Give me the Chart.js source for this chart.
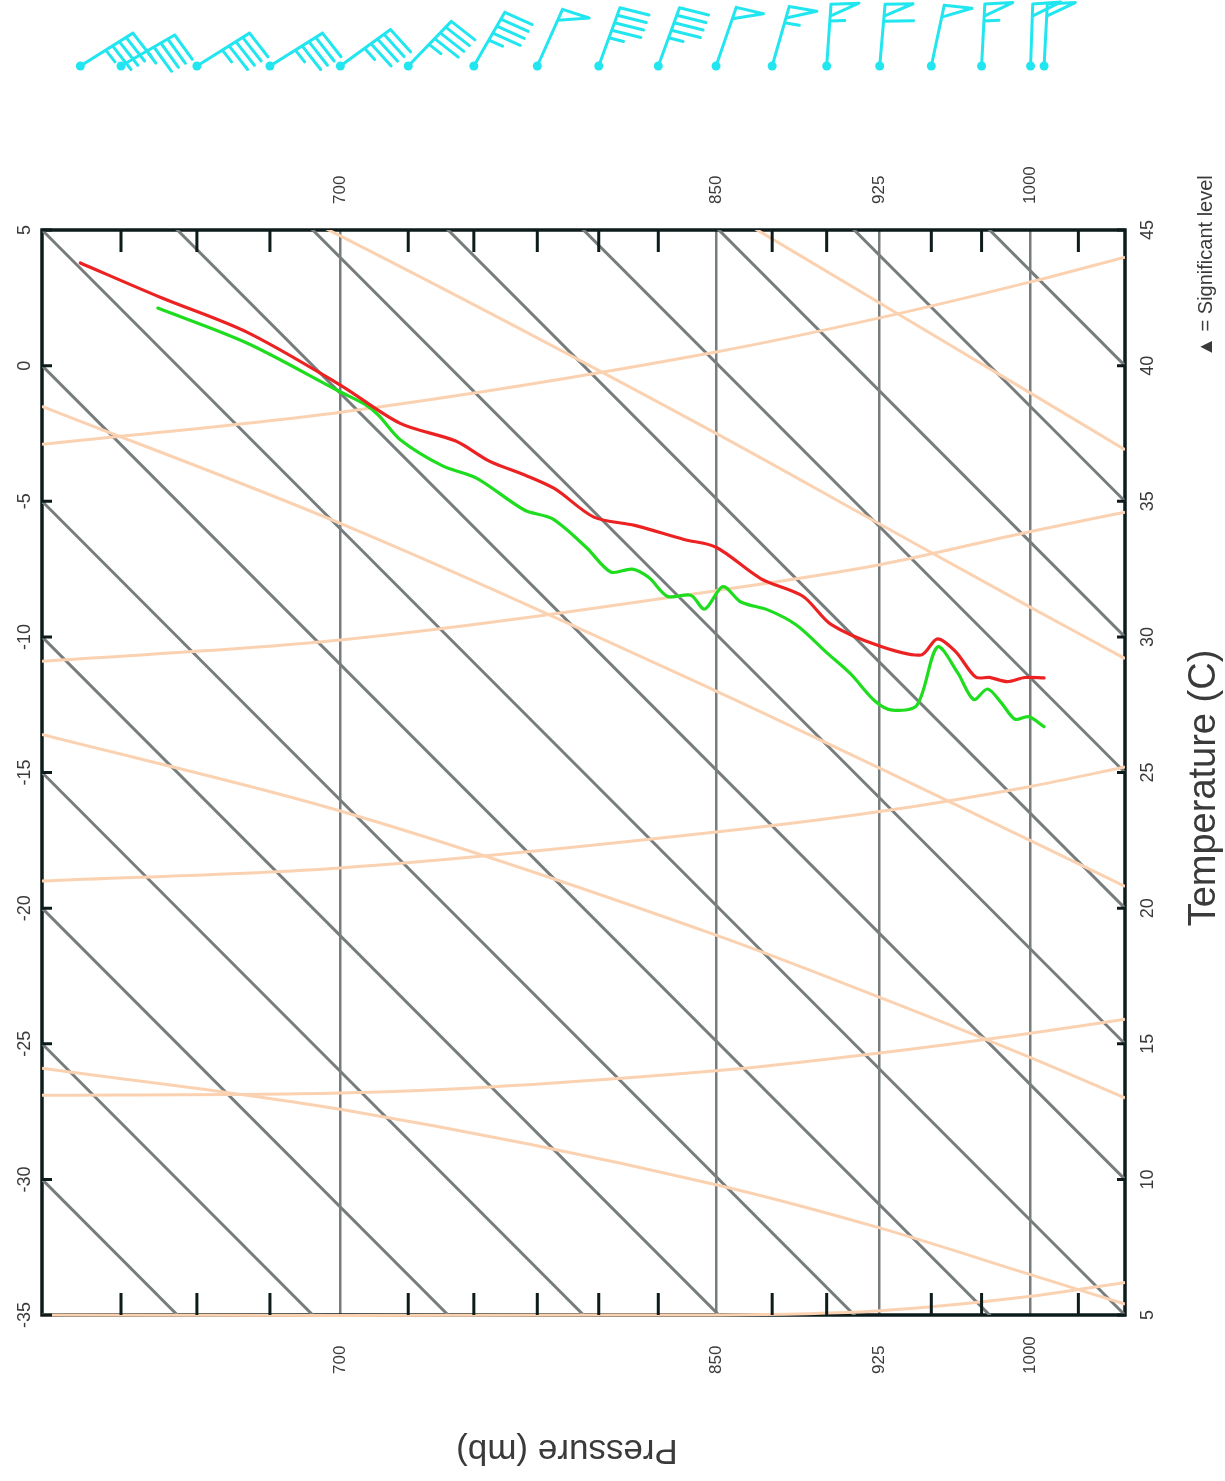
<!DOCTYPE html>
<html lang="en">
<head>
<meta charset="UTF-8">
<title>Sounding</title>
<script src="https://cdn.jsdelivr.net/npm/chart.js"></script>
<style>
  html, body { margin: 0; padding: 0; background: #fff; }
  canvas { display: block; }
</style>
</head>
<body>
<canvas id="skewt" width="1225" height="1481"></canvas>
<script>
  // sounding: pressure (mb) and temperature (C)
  const tempPressure = [612, 638, 667, 700, 722, 743, 756, 770, 782, 798, 815, 836, 850, 870, 889, 902, 925, 945, 953, 962, 972, 979, 988, 997, 1007];
  const tempC = [5.2, 6.9, 8.8, 10.3, 11.1, 12.5, 13.0, 13.8, 14.4, 14.8, 16.0, 17.3, 18.2, 18.7, 19.6, 19.6, 20.6, 21.8, 23.0, 23.2, 23.0, 23.5, 24.0, 24.8, 25.5];
  const dewPressure = [637, 667, 699, 709, 714, 722, 738, 751, 770, 781, 795, 805, 814, 821, 829, 839, 845, 853, 861, 873, 886, 900, 911, 923, 931, 943, 953, 963, 971, 978, 985, 992, 999, 1007];
  const dewC = [6.4, 8.4, 10.0, 10.5, 10.6, 10.5, 11.1, 11.9, 12.5, 13.2, 13.4, 13.4, 14.3, 14.6, 14.6, 15.5, 15.5, 17.0, 17.1, 17.8, 18.3, 18.4, 18.5, 18.4, 18.7, 19.8, 22.7, 22.5, 22.1, 23.0, 23.0, 22.9, 23.5, 23.7];

  // winds along the top
  const windPressure = [612, 625, 650, 675, 700, 725, 750, 775, 800, 825, 850, 875, 900, 925, 950, 975, 1000, 1007];
  const windDir = [148, 150, 148, 148, 144, 134, 120, 114, 110, 110, 109, 106, 94, 95, 102, 93, 92, 93];
  const windSpeed = [45, 45, 45, 45, 45, 45, 45, 50, 45, 45, 50, 55, 55, 60, 50, 55, 50, 50];

  // background lines
  const isoTemps = [-35, -30, -25, -20, -15, -10, -5, 0, 5, 10, 15, 20, 25, 30, 35, 40, 45];
  const adiabatPressure = [600, 700, 850, 925, 1000, 1050];
  const dryAdiabats = [
    [-2.9, 9.3, 25.4, 32.7, 39.6, 44.0],
    [-10.9, 0.9, 16.6, 23.6, 30.4, 34.6],
    [-19.0, -7.5, 7.7, 14.5, 21.0, 25.2],
    [-26.9, -15.8, -1.1, 5.6, 11.9, 15.9],
    [-35.0, -24.0, -10.1, -3.9, 2.2, 6.2]
  ];
  const moistAdiabats = [
    [20.5, 25.2, 30.8, 33.25, 35.5, 36.9],
    [10.2, 15.8, 22.4, 25.1, 27.6, 29.2],
    [-1.5, 5.2, 12.9, 16.1, 19.0, 20.8],
    [-13.6, -5.4, 3.9, 7.65, 11.0, 13.0],
    [-25.9, -16.4, -5.3, -0.85, 3.0, 5.4]
  ];

  // axes
  const pressureGrid = [700, 850, 925, 1000];
  const pressureTicks = [625, 650, 675, 725, 750, 775, 800, 825, 875, 900, 950, 975, 1025];
  const leftTempTicks = [5, 0, -5, -10, -15, -20, -25, -30, -35];
  const rightTempTicks = [45, 40, 35, 30, 25, 20, 15, 10, 5];

  const P_TOP = 600, P_BOT = 1050, SKEW = 40;
  const FONT = '"Liberation Sans", Arial, sans-serif';
  const GRAY = '#777d7d';
  const PEACH = '#fbd2b1';
  const CYAN = '#22e6ef';

  function skew(p, t) {
    return t - SKEW * Math.log(p / P_TOP) / Math.log(P_BOT / P_TOP);
  }
  function toPoints(ps, ts) {
    return ps.map((p, i) => ({ x: p, y: skew(p, ts[i]) }));
  }
  function line(data, color, width, order, extra) {
    return Object.assign({
      data, borderColor: color, borderWidth: width, pointRadius: 0,
      fill: false, order, clip: 0, tension: 0
    }, extra || {});
  }

  const datasets = [];
  datasets.push(line(toPoints(tempPressure, tempC), '#ec2222', 3.2, 0, { tension: 0.3, borderCapStyle: 'round' }));
  datasets.push(line(toPoints(dewPressure, dewC), '#1edc1e', 3.2, 1, { tension: 0.3, borderCapStyle: 'round' }));
  dryAdiabats.forEach((ts, i) => {
    const extra = { cubicInterpolationMode: 'monotone' };
    if (i === dryAdiabats.length - 1) extra.clip = { left: 0, top: 0, right: 0, bottom: 3 };
    datasets.push(line(toPoints(adiabatPressure, ts), PEACH, 3, 2, extra));
  });
  moistAdiabats.forEach(ts => {
    datasets.push(line(toPoints(adiabatPressure, ts), PEACH, 3, 2, { cubicInterpolationMode: 'monotone' }));
  });
  isoTemps.forEach(t => {
    datasets.push(line([{ x: P_TOP, y: skew(P_TOP, t) }, { x: P_BOT, y: skew(P_BOT, t) }], GRAY, 3, 3));
  });

  function vtext(ctx, txt, x, y, angle, align, font) {
    ctx.save();
    ctx.translate(x, y);
    ctx.rotate(angle);
    ctx.font = font;
    ctx.textAlign = align;
    ctx.textBaseline = 'middle';
    ctx.fillText(txt, 0, 0);
    ctx.restore();
  }

  function drawBarb(ctx, x, y, dir, speed) {
    const a = dir * Math.PI / 180;
    const dx = -Math.cos(a), dy = -Math.sin(a);
    const r = 84 * Math.PI / 180;
    const fx = dx * Math.cos(r) - dy * Math.sin(r);
    const fy = dx * Math.sin(r) + dy * Math.cos(r);
    const L = 62;
    const tx = x + dx * L, ty = y + dy * L;
    ctx.beginPath();
    ctx.moveTo(x, y);
    ctx.lineTo(tx, ty);
    let pos = 0;
    let rest = speed;
    while (rest >= 50) {
      const ax = tx - dx * pos, ay = ty - dy * pos;
      const bx = tx - dx * (pos + 12), by = ty - dy * (pos + 12);
      ctx.moveTo(ax, ay);
      ctx.lineTo(ax + fx * 28, ay + fy * 28);
      ctx.lineTo(bx, by);
      pos += 17;
      rest -= 50;
    }
    while (rest >= 10) {
      const sx = tx - dx * pos, sy = ty - dy * pos;
      ctx.moveTo(sx, sy);
      ctx.lineTo(sx + fx * 30, sy + fy * 30);
      pos += 8;
      rest -= 10;
    }
    if (rest >= 5) {
      const sx = tx - dx * pos, sy = ty - dy * pos;
      ctx.moveTo(sx, sy);
      ctx.lineTo(sx + fx * 15, sy + fy * 15);
    }
    ctx.stroke();
    ctx.beginPath();
    ctx.arc(x, y, 4.5, 0, Math.PI * 2);
    ctx.fill();
  }

  const decor = {
    id: 'decor',
    beforeDatasetsDraw(chart) {
      const { ctx, chartArea: a } = chart;
      ctx.save();
      ctx.strokeStyle = '#0d1b1b';
      ctx.lineWidth = 3.5;
      ctx.strokeRect(a.left, a.top, a.right - a.left, a.bottom - a.top);
      ctx.restore();
    },
    afterDatasetsDraw(chart) {
      const { ctx, chartArea: a, scales } = chart;
      const xs = scales.x, ys = scales.y;
      ctx.save();
      ctx.strokeStyle = '#0d1b1b';
      ctx.lineWidth = 3;
      ctx.beginPath();
      pressureTicks.forEach(p => {
        const x = xs.getPixelForValue(p);
        ctx.moveTo(x, a.top);
        ctx.lineTo(x, a.top + 22);
        ctx.moveTo(x, a.bottom);
        ctx.lineTo(x, a.bottom - 22);
      });
      leftTempTicks.forEach(t => {
        const y = ys.getPixelForValue(t);
        ctx.moveTo(a.left, y);
        ctx.lineTo(a.left + 10, y);
      });
      rightTempTicks.forEach(t => {
        const y = ys.getPixelForValue(t - SKEW);
        ctx.moveTo(a.right - 8, y);
        ctx.lineTo(a.right, y);
      });
      ctx.stroke();
      ctx.restore();
    },
    afterDraw(chart) {
      const { ctx, scales } = chart;
      const xs = scales.x, ys = scales.y;
      const up = -Math.PI / 2;
      ctx.save();
      ctx.fillStyle = '#3a3a3a';
      leftTempTicks.forEach(t => {
        vtext(ctx, String(t), 25, ys.getPixelForValue(t), up, 'center', '18px ' + FONT);
      });
      rightTempTicks.forEach(t => {
        vtext(ctx, String(t), 1148, ys.getPixelForValue(t - SKEW), up, 'center', '18px ' + FONT);
      });
      pressureGrid.forEach(p => {
        const x = xs.getPixelForValue(p);
        vtext(ctx, String(p), x, 204, up, 'left', '17px ' + FONT);
        vtext(ctx, String(p), x, 1374, up, 'left', '17px ' + FONT);
      });
      vtext(ctx, 'Temperature (C)', 1205, 788, up, 'center', '38px ' + FONT);
      vtext(ctx, 'Pressure (mb)', 567, 1450, Math.PI, 'center', '35px ' + FONT);
      vtext(ctx, '\u25B2 = Significant level', 1206, 266, up, 'center', '20px ' + FONT);

      ctx.strokeStyle = CYAN;
      ctx.fillStyle = CYAN;
      ctx.lineWidth = 3;
      ctx.lineCap = 'round';
      ctx.lineJoin = 'round';
      windPressure.forEach((p, i) => {
        drawBarb(ctx, xs.getPixelForValue(p), 66, windDir[i], windSpeed[i]);
      });
      ctx.restore();
    }
  };

  new Chart(document.getElementById('skewt').getContext('2d'), {
    type: 'line',
    data: { datasets },
    options: {
      responsive: false,
      animation: false,
      devicePixelRatio: 1,
      events: [],
      layout: { padding: { top: 230, right: 100, left: 0, bottom: 0 } },
      plugins: { legend: { display: false }, tooltip: { enabled: false } },
      scales: {
        x: {
          type: 'logarithmic',
          min: P_TOP,
          max: P_BOT,
          afterFit(s) { s.height = 166; },
          afterBuildTicks(s) { s.ticks = pressureGrid.map(v => ({ value: v })); },
          ticks: { display: false },
          grid: { color: GRAY, lineWidth: 2.5, drawTicks: false },
          border: { display: false }
        },
        y: {
          type: 'linear',
          min: -35,
          max: 5,
          afterFit(s) { s.width = 42; },
          ticks: { display: false },
          grid: { display: false },
          border: { display: false }
        }
      }
    },
    plugins: [decor]
  });
</script>
</body>
</html>
